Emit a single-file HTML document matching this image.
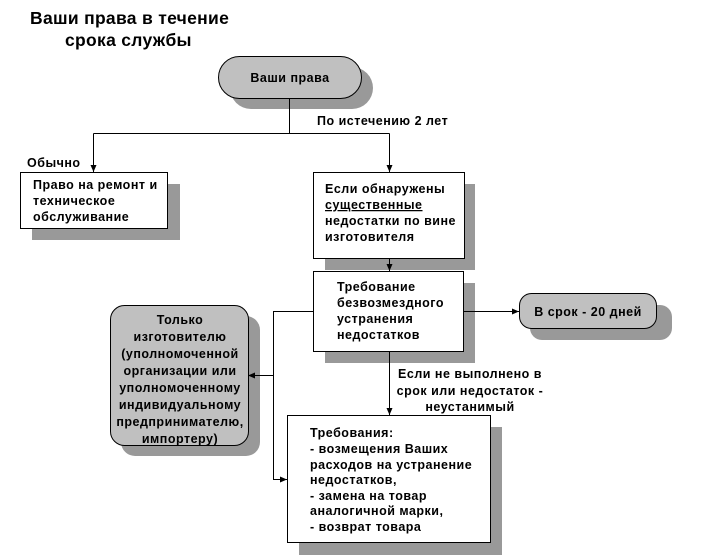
<!DOCTYPE html>
<html><head><meta charset="utf-8"><style>
html,body{margin:0;padding:0;background:#fff;}
svg{display:block;}
text{font-family:"Liberation Sans",Arial,sans-serif;font-weight:bold;font-size:12.5px;letter-spacing:0.5px;fill:#000;}
</style></head><body>
<svg width="708" height="560" viewBox="0 0 708 560" xmlns="http://www.w3.org/2000/svg">
<defs>
<marker id="a" markerWidth="8" markerHeight="8" refX="7" refY="4" orient="auto" markerUnits="userSpaceOnUse">
<path d="M0,1 L7,4 L0,7 Z" fill="#000"/></marker>
</defs>
<text x="30" y="24" style="font-size:17.5px;letter-spacing:0.3px">Ваши права в течение</text>
<text x="65" y="46" style="font-size:17.5px;letter-spacing:0.3px">срока службы</text>

<rect x="230" y="67" width="143" height="42" rx="21" fill="#999"/>
<rect x="32" y="184" width="148" height="56" fill="#999"/>
<rect x="325" y="184" width="150" height="86" fill="#999"/>
<rect x="325" y="283" width="150" height="80" fill="#999"/>
<rect x="530" y="305" width="142" height="35" rx="12" fill="#999"/>
<rect x="121" y="316" width="139" height="140" rx="14" fill="#999"/>
<rect x="299" y="427" width="203" height="128" fill="#999"/>

<g stroke="#000" stroke-width="1" fill="none">
<line x1="289.5" y1="98" x2="289.5" y2="133.5"/>
<line x1="93.5" y1="133.5" x2="389.5" y2="133.5"/>
<line x1="93.5" y1="133.5" x2="93.5" y2="172" marker-end="url(#a)"/>
<line x1="389.5" y1="133.5" x2="389.5" y2="172" marker-end="url(#a)"/>
<line x1="389.5" y1="258" x2="389.5" y2="271" marker-end="url(#a)"/>
<line x1="463" y1="311.5" x2="519" y2="311.5" marker-end="url(#a)"/>
<line x1="389.5" y1="351" x2="389.5" y2="415" marker-end="url(#a)"/>
<polyline points="313,311.5 273.5,311.5 273.5,479.5 287,479.5" marker-end="url(#a)"/>
<line x1="273.5" y1="375.5" x2="248" y2="375.5" marker-end="url(#a)"/>
</g>

<rect x="218.5" y="56.5" width="143" height="42" rx="21" fill="#c0c0c0" stroke="#000"/>
<text x="290" y="82" text-anchor="middle">Ваши права</text>

<text x="317" y="125">По истечению 2 лет</text>
<text x="27" y="167">Обычно</text>

<rect x="20.5" y="172.5" width="147" height="56" fill="#fff" stroke="#000"/>
<text x="33" y="189">Право на ремонт и</text>
<text x="33" y="205">техническое</text>
<text x="33" y="221">обслуживание</text>

<rect x="313.5" y="172.5" width="151" height="86" fill="#fff" stroke="#000"/>
<text x="325" y="193">Если обнаружены</text>
<text x="325" y="209" text-decoration="underline">существенные</text>
<text x="325" y="225">недостатки по вине</text>
<text x="325" y="241">изготовителя</text>

<rect x="313.5" y="271.5" width="150" height="80" fill="#fff" stroke="#000"/>
<text x="337" y="291">Требование</text>
<text x="337" y="307">безвозмездного</text>
<text x="337" y="323">устранения</text>
<text x="337" y="339">недостатков</text>

<rect x="519.5" y="293.5" width="137" height="35" rx="12" fill="#c0c0c0" stroke="#000"/>
<text x="588" y="316" text-anchor="middle">В срок - 20 дней</text>

<rect x="110.5" y="305.5" width="138" height="140" rx="14" fill="#c0c0c0" stroke="#000"/>
<g text-anchor="middle">
<text x="180" y="324">Только</text>
<text x="180" y="341">изготовителю</text>
<text x="180" y="358">(уполномоченной</text>
<text x="180" y="375">организации или</text>
<text x="180" y="392">уполномоченному</text>
<text x="180" y="409">индивидуальному</text>
<text x="180" y="426">предпринимателю,</text>
<text x="180" y="443">импортеру)</text>
</g>

<g text-anchor="middle">
<text x="470" y="378">Если не выполнено в</text>
<text x="470" y="395">срок или недостаток -</text>
<text x="470" y="411">неустанимый</text>
</g>

<rect x="287.5" y="415.5" width="203" height="127" fill="#fff" stroke="#000"/>
<text x="310" y="437">Требования:</text>
<text x="310" y="453">- возмещения Ваших</text>
<text x="310" y="469">расходов на устранение</text>
<text x="310" y="484">недостатков,</text>
<text x="310" y="500">- замена на товар</text>
<text x="310" y="515">аналогичной марки,</text>
<text x="310" y="531">- возврат товара</text>
</svg>
</body></html>
